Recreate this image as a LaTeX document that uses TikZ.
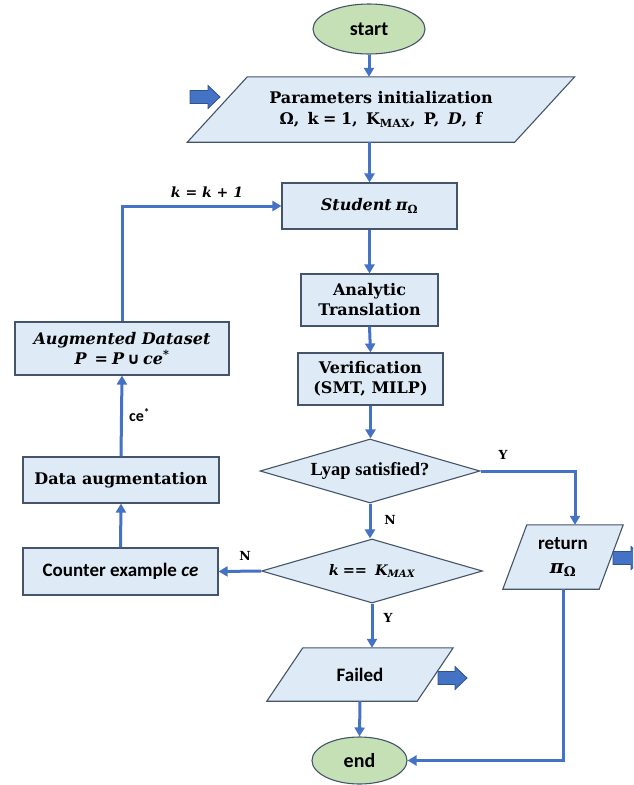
\RequirePackage{fix-cm}
\documentclass[tikz,border=0pt]{standalone}
\usepackage{fontspec}
\newfontfamily\calib{Carlito}
\newfontfamily\dvs{DejaVu Serif}
\newfontfamily\dvsans{DejaVu Sans}
\newfontfamily\lbs{Liberation Serif}
\usetikzlibrary{shapes.geometric,arrows.meta,calc,backgrounds}
\definecolor{boxfill}{HTML}{DEEBF7}
\definecolor{boxline}{HTML}{44546A}
\definecolor{flow}{HTML}{4472C4}
\definecolor{termfill}{HTML}{C5E0B4}
\definecolor{fatline}{HTML}{2F528F}
\newcommand\fsz[2]{\fontsize{#1}{#2}\selectfont}
% bold italic serif used for the formula-like captions
\newcommand\bit{\dvs\bfseries\itshape}
\newcommand\piomega{{\bit π\textsubscript{\upshape Ω}}}
% parallelogram drawn around an (undrawn) rectangular node
\newcommand\iobox[2]{%
  \begin{pgfonlayer}{background}
    \draw[ioline] ($(#1.north west)+(#2,0)$) -- ($(#1.north east)+(#2,0)$)
      -- ($(#1.south east)+(-#2,0)$) -- ($(#1.south west)+(-#2,0)$) -- cycle;
  \end{pgfonlayer}}
% thick block arrow pointing right, starting at (#1,#2)
\newcommand\fatarrow[3]{%
  \draw[fatshape] (#1,#2-6.5) -- (#1+#3-12,#2-6.5) -- (#1+#3-12,#2-11.5)
    -- (#1+#3,#2) -- (#1+#3-12,#2+11.5) -- (#1+#3-12,#2+6.5) -- (#1,#2+6.5) -- cycle;}
\begin{document}
\begin{tikzpicture}[x=1pt,y=-1pt,
  serif/.style={font=\dvs\fsz{16}{20}\bfseries},
  sans/.style={font=\calib\fsz{19}{22}\bfseries},
  proc/.style={rectangle,draw=boxline,line width=1.1pt,fill=boxfill,align=center,inner sep=0pt},
  term/.style={ellipse,draw=boxline,line width=1.1pt,fill=termfill,inner sep=0pt,font=\calib\fsz{20}{22}\bfseries},
  decide/.style={diamond,draw=boxline,line width=1.1pt,fill=boxfill,inner sep=0pt,aspect=3.4},
  io/.style={rectangle,inner sep=0pt,align=center},
  ioline/.style={draw=boxline,line width=1.1pt,fill=boxfill},
  flowline/.style={draw=flow,line width=3pt},
  go/.style={flowline,-{Triangle[length=9pt,width=10pt]}},
  fatshape/.style={fill=flow,draw=fatline,line width=0.8pt},
  tag/.style={font=\dvs\fsz{12.5}{15}\bfseries,inner sep=0pt}
]
\useasboundingbox (0,0) rectangle (633,785);
\clip (0,0) rectangle (633,785);

% main column
\node[term,minimum width=112,minimum height=50] (start) at (369,29) {start};
\node[io,serif,minimum width=327,minimum height=65] (params) at (381,109.5)
  {Parameters initialization\\[1pt]Ω,\, k\;=\;1,\, K\textsubscript{MAX},\, P,\, \textit{D},\, f};
\iobox{params}{30}
\node[proc,font=\bit\fsz{16}{20},minimum width=175,minimum height=46] (student) at (369.5,206)
  {Student\hspace{4pt}π\textsubscript{\upshape Ω}};
\node[proc,serif,minimum width=137,minimum height=52] (analytic) at (369.5,300) {Analytic\\Translation};
\node[proc,serif,minimum width=145,minimum height=52] (verif) at (370.5,379) {Verification\\(SMT, MILP)};
\node[decide,font=\lbs\fsz{18.5}{21}\bfseries,minimum width=220,minimum height=64] (lyap) at (370,471) {Lyap satisfied?};
\node[decide,font=\bit\fsz{14.5}{17},minimum width=221,minimum height=64] (kmax) at (372,571)
  {k\hspace{4pt}==\hspace{8pt}K\textsubscript{MAX}};
\node[io,sans,minimum width=96,minimum height=64] (ret) at (563,557) {return\\[2pt]\piomega};
\iobox{ret}{12}
\node[io,sans,minimum width=150,minimum height=53] (failed) at (360,674.5) {Failed};
\iobox{failed}{18}
\node[term,minimum width=95,minimum height=47] (endn) at (359.5,760.5) {end};

% left column
\node[proc,font=\bit\fsz{16}{20},minimum width=214,minimum height=53] (aug) at (122,348.5)
  {Augmented Dataset\\P\hspace{8pt}=\hspace{4pt}P\hspace{3pt}{\dvsans\upshape ∪}\hspace{3pt}ce\textsuperscript{*}};
\node[proc,serif,minimum width=196,minimum height=46] (dataaug) at (121,480) {Data augmentation};
\node[proc,sans,minimum width=195,minimum height=47] (counter) at (120.5,571.5) {Counter example \textit{ce}};

% block arrows
\fatarrow{190}{97}{30}
\fatarrow{438}{678}{29}
\fatarrow{613}{558}{30}

% connectors
\draw[go] (start.south) -- (start.south |- params.north);
\draw[go] (student.north |- params.south) -- (student.north);
\draw[go] (student.south) -- (analytic.north);
\draw[go] (analytic.south) -- (verif.north);
\draw[go] (verif.south) -- (verif.south |- lyap.north);
\draw[go] (lyap.south) -- (lyap.south |- kmax.north);
\draw[go] (lyap.east) -| ($(ret.north)+(12,0)$);
\draw[go] (kmax.west) -- (counter.east);
\draw[go] (kmax.south) -- (kmax.south |- failed.north);
\draw[go] (failed.south) -- (endn.north);
\draw[go] (ret.south) |- (endn.east);
\draw[go] (counter.north) -- (dataaug.south);
\draw[go] (dataaug.north) -- (aug.south);
\draw[go] (aug.north) |- (student.west);

% labels
\node[tag] (ly) at (503,455) {Y};
\node[tag] (ln) at (390,520) {N};
\node[tag] (kn) at (245,556) {N};
\node[tag] (ky) at (388,618) {Y};
\node[font=\bit\fsz{14}{17},inner sep=0pt] (inc) at (207,192) {k = k + 1};
\node[font=\calib\fsz{16}{18}\bfseries,inner sep=0pt,anchor=west] (cestar) at (129,415) {ce\textsuperscript{*}};
\end{tikzpicture}
\end{document}
